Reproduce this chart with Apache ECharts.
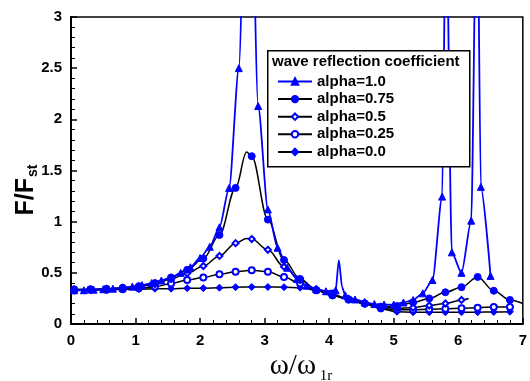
<!DOCTYPE html>
<html>
<head>
<meta charset="utf-8">
<script src="https://cdn.jsdelivr.net/npm/echarts@6/dist/echarts.min.js"></script>
<style>
  html, body { margin: 0; padding: 0; background: #fff; }
  #chart { width: 530px; height: 381px; }
</style>
</head>
<body>
<div id="chart"></div>
<script>
// Marked points every 0.25 for the four damped curves
const X_STEP25 = [0.05, 0.3, 0.55, 0.8, 1.05, 1.3, 1.55, 1.8, 2.05, 2.3, 2.55, 2.8, 3.05, 3.3,
  3.55, 3.8, 4.05, 4.3, 4.55, 4.8, 5.05, 5.3, 5.55, 5.8, 6.05, 6.3, 6.55, 6.8];

const ALPHA075_Y = [0.34, 0.34, 0.345, 0.355, 0.37, 0.40, 0.455, 0.53, 0.64, 0.87, 1.33, 1.64, 1.02, 0.625,
  0.44, 0.33, 0.28, 0.24, 0.20, 0.17, 0.175, 0.21, 0.25, 0.31, 0.36, 0.46, 0.325, 0.235];
const ALPHA05_Y = [0.33, 0.335, 0.34, 0.35, 0.365, 0.39, 0.44, 0.495, 0.567, 0.665, 0.79, 0.83, 0.725, 0.56,
  0.43, 0.34, 0.29, 0.245, 0.205, 0.165, 0.155, 0.16, 0.18, 0.20, 0.235];
const ALPHA025_Y = [0.33, 0.335, 0.335, 0.34, 0.35, 0.365, 0.395, 0.43, 0.455, 0.485, 0.51, 0.525, 0.51, 0.46,
  0.395, 0.33, 0.28, 0.24, 0.20, 0.155, 0.14, 0.14, 0.145, 0.15, 0.155, 0.16, 0.165, 0.165];
const ALPHA00_Y = [0.33, 0.335, 0.335, 0.34, 0.34, 0.345, 0.345, 0.35, 0.35, 0.355, 0.36, 0.362, 0.362, 0.36,
  0.355, 0.33, 0.28, 0.24, 0.195, 0.15, 0.12, 0.115, 0.115, 0.115, 0.115, 0.115, 0.118, 0.12];

// Undamped case, marked every 0.15
const ALPHA10_X = [0.05, 0.2, 0.35, 0.5, 0.65, 0.8, 0.95, 1.1, 1.25, 1.4, 1.55, 1.7, 1.85, 2.0, 2.15, 2.3,
  2.45, 2.6, 2.75, 2.9, 3.05, 3.2, 3.35, 3.5, 3.65, 3.8, 3.95, 4.1, 4.25, 4.4, 4.55, 4.7, 4.85, 5.0,
  5.15, 5.3, 5.45, 5.6, 5.75, 5.9, 6.05, 6.2, 6.35, 6.5];
const ALPHA10_Y = [0.33, 0.33, 0.335, 0.34, 0.345, 0.355, 0.365, 0.38, 0.40, 0.425, 0.455, 0.50, 0.555, 0.645,
  0.755, 0.945, 1.33, 2.5, 5.8, 2.13, 1.12, 0.745, 0.55, 0.44, 0.375, 0.34, 0.32, 0.33, 0.28, 0.24,
  0.215, 0.195, 0.19, 0.19, 0.21, 0.235, 0.30, 0.43, 1.245, 0.70, 0.50, 1.01, 1.34, 0.47];

// Curve points between markers (no symbol drawn)
const ALPHA10_EXTRA_X = [4.15, 4.2, 5.81, 6.29];
const ALPHA10_EXTRA_Y = [0.625, 0.36, 4.2, 4.5];
const ALPHA075_EXTRA_X = [2.72, 7.0];
const ALPHA075_EXTRA_Y = [1.68, 0.2];
const ALPHA05_EXTRA_X = [2.72, 6.16];
const ALPHA05_EXTRA_Y = [0.835, 0.25];

const SERIES_NAMES = ['alpha=1.0', 'alpha=0.75', 'alpha=0.5', 'alpha=0.25', 'alpha=0.0'];

const BLUE = '#0000ff';
const FONT = '"Liberation Sans", Arial, sans-serif';

function build(xs, ys, ex, ey) {
  const pts = xs.slice(0, ys.length).map((x, i) => ({ value: [x, ys[i]] }));
  (ex || []).forEach((x, i) => pts.push({ value: [x, ey[i]], symbol: 'none' }));
  pts.sort((a, b) => a.value[0] - b.value[0]);
  return pts;
}

const chart = echarts.init(document.getElementById('chart'), null, { renderer: 'canvas' });

const tickLabel = { color: '#000', fontFamily: FONT, fontWeight: 'bold', fontSize: 15 };

function lineSeries(name, data, opts) {
  return Object.assign({
    name,
    type: 'line',
    data,
    smooth: 0.35,
    smoothMonotone: 'x',
    clip: true,
    lineStyle: { color: '#000', width: 1.5 },
    itemStyle: { color: BLUE, borderColor: BLUE, borderWidth: 1 },
    emphasis: { disabled: true },
    z: 2,
  }, opts);
}

chart.setOption({
  animation: false,
  grid: { left: 71, top: 17, width: 460, height: 307, show: true, borderColor: '#000', borderWidth: 1.5 },
  xAxis: {
    type: 'value', min: 0, max: 7, interval: 1,
    axisLine: { lineStyle: { color: '#000', width: 2 } },
    axisTick: { inside: true, length: 6, lineStyle: { color: '#000', width: 1.5 } },
    minorTick: { show: true, splitNumber: 5, length: 4, lineStyle: { color: '#000', width: 1 } },
    axisLabel: Object.assign({ margin: 9 }, tickLabel),
    splitLine: { show: false },
  },
  yAxis: {
    type: 'value', min: 0, max: 3, interval: 0.5,
    axisLine: { show: true, lineStyle: { color: '#000', width: 2 } },
    axisTick: { show: true, inside: true, length: 6, lineStyle: { color: '#000', width: 1.5 } },
    minorTick: { show: true, splitNumber: 5, length: 4, lineStyle: { color: '#000', width: 1 } },
    axisLabel: Object.assign({ margin: 9 }, tickLabel),
    splitLine: { show: false },
  },
  legend: {
    left: 272, top: 69, orient: 'vertical', z: 20,
    itemWidth: 34, itemHeight: 8, itemGap: 2.6,
    textStyle: { color: '#000', fontFamily: FONT, fontWeight: 'bold', fontSize: 15 },
    data: SERIES_NAMES,
    selectedMode: false,
  },
  graphic: [
    { type: 'rect', left: 267, top: 50, z: 10, silent: true,
      shape: { width: 202, height: 116 },
      style: { fill: '#fff', stroke: '#000', lineWidth: 1.5 } },
    { type: 'text', left: 272, top: 54, z: 11, silent: true,
      style: { text: 'wave reflection coefficient', fill: '#000', font: 'bold 15px ' + FONT } },
    { type: 'text', x: 26, y: 190, rotation: Math.PI / 2, z: 11, silent: true,
      style: {
        text: '{a|F/F}{b|st}', align: 'center', verticalAlign: 'middle',
        rich: {
          a: { fontFamily: FONT, fontWeight: 'bold', fontSize: 25, fill: '#000', verticalAlign: 'bottom' },
          b: { fontFamily: FONT, fontWeight: 'bold', fontSize: 14, fill: '#000', verticalAlign: 'bottom', padding: [0, 0, -2, 1] },
        },
      } },
    { type: 'text', x: 301, y: 366, z: 11, silent: true,
      style: {
        text: '{a|ω/ω}{b| 1r}', align: 'center', verticalAlign: 'middle',
        rich: {
          a: { fontFamily: '"Liberation Serif", "Times New Roman", serif', fontSize: 29, fill: '#000', verticalAlign: 'bottom' },
          b: { fontFamily: '"Liberation Serif", "Times New Roman", serif', fontSize: 15, fill: '#000', verticalAlign: 'bottom', padding: [0, 0, -3, 0] },
        },
      } },
  ],
  series: [
    lineSeries('alpha=0.0', build(X_STEP25, ALPHA00_Y), { symbol: 'diamond', symbolSize: 7 }),
    lineSeries('alpha=0.25', build(X_STEP25, ALPHA025_Y), { symbol: 'emptyCircle', symbolSize: 6,
      itemStyle: { color: BLUE, borderColor: BLUE, borderWidth: 1 } }),
    lineSeries('alpha=0.5', build(X_STEP25, ALPHA05_Y, ALPHA05_EXTRA_X, ALPHA05_EXTRA_Y), { symbol: 'emptyDiamond', symbolSize: 6,
      itemStyle: { color: BLUE, borderColor: BLUE, borderWidth: 1 } }),
    lineSeries('alpha=0.75', build(X_STEP25, ALPHA075_Y, ALPHA075_EXTRA_X, ALPHA075_EXTRA_Y), { symbol: 'circle', symbolSize: 7 }),
    lineSeries('alpha=1.0', build(ALPHA10_X, ALPHA10_Y, ALPHA10_EXTRA_X, ALPHA10_EXTRA_Y), {
      symbol: 'triangle', symbolSize: 7, smooth: 0.25,
      lineStyle: { color: BLUE, width: 1.8 }, z: 3 }),
  ],
});
</script>
</body>
</html>
